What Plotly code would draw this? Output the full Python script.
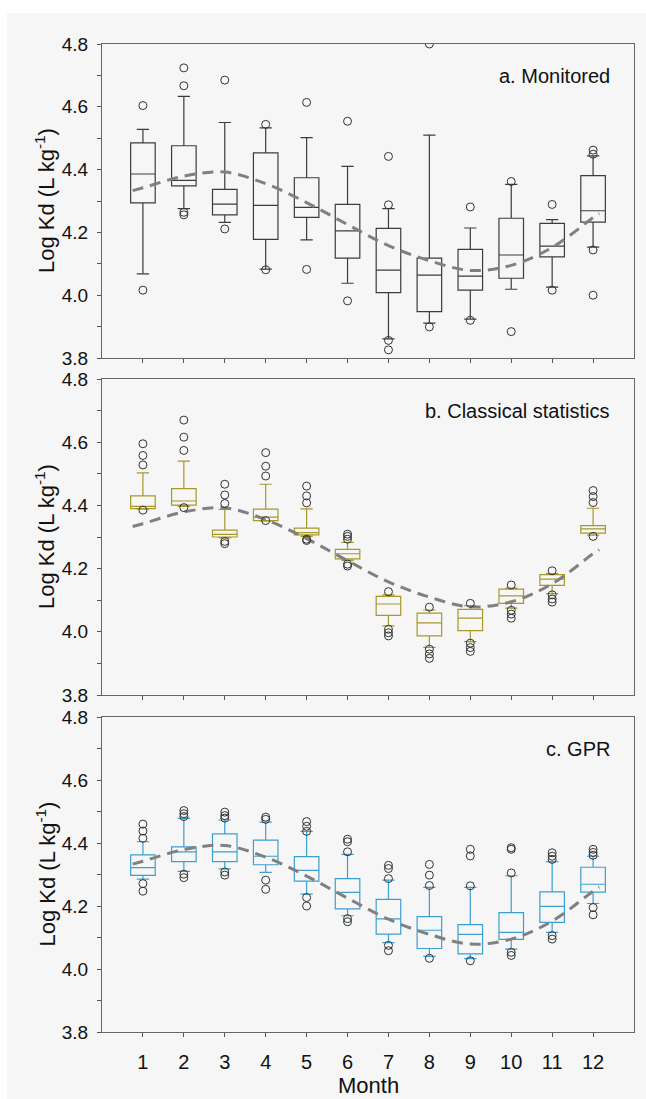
import plotly.graph_objects as go
from plotly.subplots import make_subplots

months = [1, 2, 3, 4, 5, 6, 7, 8, 9, 10, 11, 12]
month_labels = [str(m) for m in months]

# Panel a: Monitored
a_upper = [4.528, 4.633, 4.550, 4.533, 4.502, 4.410, 4.276, 4.510, 4.214, 4.353, 4.241, 4.444]
a_q3 = [4.485, 4.476, 4.337, 4.453, 4.374, 4.289, 4.213, 4.118, 4.146, 4.245, 4.229, 4.381]
a_med = [4.386, 4.366, 4.290, 4.286, 4.280, 4.205, 4.080, 4.064, 4.061, 4.128, 4.156, 4.269]
a_q1 = [4.294, 4.348, 4.256, 4.178, 4.248, 4.118, 4.008, 3.948, 4.016, 4.054, 4.122, 4.233]
a_lower = [4.068, 4.276, 4.232, 4.083, 4.176, 4.038, 3.861, 3.911, 3.924, 4.019, 4.026, 4.153]
a_out_x = [1, 1, 2, 2, 2, 2, 3, 3, 4, 4, 5, 5, 6, 6, 7, 7, 7, 7, 8, 8, 9, 9, 10, 10, 11, 11, 12, 12, 12, 12]
a_out_y = [4.604, 4.016, 4.724, 4.667, 4.264, 4.256, 4.685, 4.211, 4.544, 4.081, 4.614, 4.082,
           4.554, 3.982, 4.442, 4.288, 3.856, 3.826, 4.800, 3.899, 4.281, 3.920, 4.362, 3.884,
           4.289, 4.016, 4.462, 4.449, 4.144, 4.000]

# Panel b: Classical statistics
b_upper = [4.503, 4.540, 4.387, 4.467, 4.389, 4.283, 4.117, 4.069, 4.083, 4.138, 4.184, 4.391]
b_q3 = [4.430, 4.453, 4.322, 4.388, 4.328, 4.261, 4.112, 4.059, 4.071, 4.135, 4.181, 4.336]
b_med = [4.397, 4.414, 4.308, 4.363, 4.314, 4.247, 4.088, 4.028, 4.043, 4.114, 4.167, 4.326]
b_q1 = [4.390, 4.401, 4.300, 4.352, 4.307, 4.231, 4.052, 3.987, 4.004, 4.090, 4.147, 4.312]
b_lower = [4.388, 4.397, 4.297, 4.350, 4.302, 4.226, 4.019, 3.951, 3.969, 4.075, 4.121, 4.306]
b_out_x = [1, 1, 1, 1, 2, 2, 2, 2, 3, 3, 3, 3, 3, 4, 4, 4, 4, 5, 5, 5, 5, 5, 6, 6, 6, 6, 6,
           7, 7, 7, 7, 8, 8, 8, 8, 9, 9, 9, 9, 10, 10, 10, 10, 11, 11, 11, 11, 12, 12, 12, 12]
b_out_y = [4.595, 4.558, 4.528, 4.385, 4.670, 4.616, 4.574, 4.393, 4.467, 4.433, 4.406, 4.286, 4.279,
           4.567, 4.524, 4.493, 4.352, 4.461, 4.430, 4.408, 4.293, 4.289, 4.309, 4.302, 4.293, 4.214, 4.208,
           4.127, 4.008, 3.997, 3.987, 4.078, 3.945, 3.930, 3.916, 4.090, 3.964, 3.950, 3.938,
           4.148, 4.068, 4.056, 4.043, 4.193, 4.117, 4.104, 4.094, 4.447, 4.428, 4.409, 4.302]

# Panel c: GPR
c_upper = [4.404, 4.478, 4.473, 4.466, 4.437, 4.364, 4.282, 4.259, 4.259, 4.296, 4.341, 4.358]
c_q3 = [4.362, 4.388, 4.429, 4.409, 4.357, 4.287, 4.221, 4.166, 4.141, 4.179, 4.245, 4.323]
c_med = [4.322, 4.372, 4.372, 4.358, 4.313, 4.243, 4.159, 4.123, 4.110, 4.116, 4.199, 4.269]
c_q1 = [4.297, 4.341, 4.341, 4.331, 4.279, 4.191, 4.111, 4.065, 4.048, 4.094, 4.148, 4.244]
c_lower = [4.285, 4.310, 4.318, 4.307, 4.238, 4.169, 4.084, 4.040, 4.033, 4.063, 4.116, 4.208]
c_out_x = [1, 1, 1, 1, 1, 2, 2, 2, 2, 2, 3, 3, 3, 3, 3, 4, 4, 4, 4, 5, 5, 5, 5, 5, 6, 6, 6, 6, 6,
           7, 7, 7, 7, 7, 8, 8, 8, 8, 9, 9, 9, 9, 10, 10, 10, 10, 10, 11, 11, 11, 11, 11, 12, 12, 12, 12, 12]
c_out_y = [4.460, 4.438, 4.415, 4.271, 4.247, 4.503, 4.493, 4.484, 4.301, 4.290,
           4.498, 4.487, 4.479, 4.308, 4.298, 4.482, 4.475, 4.282, 4.253,
           4.468, 4.453, 4.437, 4.227, 4.200, 4.412, 4.404, 4.372, 4.160, 4.150,
           4.329, 4.319, 4.287, 4.075, 4.058, 4.332, 4.298, 4.265, 4.034,
           4.380, 4.359, 4.264, 4.026, 4.385, 4.380, 4.305, 4.053, 4.043,
           4.369, 4.358, 4.348, 4.106, 4.095, 4.380, 4.370, 4.361, 4.195, 4.172]

# Dashed seasonal curve (same in all panels)
curve_x = [0.75, 1, 2, 3, 4, 5, 6, 7, 8, 9, 10, 11, 12, 12.15]
curve_y = [4.333, 4.342, 4.379, 4.392, 4.355, 4.295, 4.225, 4.158, 4.110, 4.079, 4.095, 4.152, 4.247, 4.260]

panel_titles = ["a. Monitored", "b. Classical statistics", "c. GPR"]
panel_colors = ["#3c3c3c", "#a8982a", "#3d9fd0"]
FONT = "Liberation Sans, Arial, sans-serif"

fig = make_subplots(rows=3, cols=1, shared_xaxes=True, vertical_spacing=0.02)

panels = [
    (a_q1, a_med, a_q3, a_lower, a_upper, a_out_x, a_out_y),
    (b_q1, b_med, b_q3, b_lower, b_upper, b_out_x, b_out_y),
    (c_q1, c_med, c_q3, c_lower, c_upper, c_out_x, c_out_y),
]

for i, (q1, med, q3, lo, up, ox, oy) in enumerate(panels):
    row = i + 1
    fig.add_trace(go.Scatter(x=curve_x, y=curve_y, mode="lines",
                             line=dict(color="#808080", width=3, dash="11px,7px", shape="spline"),
                             showlegend=False, hoverinfo="skip"), row=row, col=1)
    fig.add_trace(go.Box(x=months, q1=q1, median=med, q3=q3, lowerfence=lo, upperfence=up,
                         boxpoints=False, width=0.6, whiskerwidth=0.5,
                         line=dict(color=panel_colors[i], width=1.2),
                         fillcolor="rgba(0,0,0,0)", showlegend=False), row=row, col=1)
    fig.add_trace(go.Scatter(x=ox, y=oy, mode="markers",
                             marker=dict(symbol="circle-open", size=8, color="#333333",
                                         line=dict(width=1, color="#333333")),
                             showlegend=False), row=row, col=1)

# layout geometry (pixels): plot from x 102..634, panels at y 44-358, 379-695, 717-1032
W, H = 646, 1099
ml, mr, mt, mb = 102, 12, 44, 67
ph = H - mt - mb
pw = W - ml - mr
def ydom(top, bot):
    return [(H - mb - bot) / ph, (H - mb - top) / ph]

doms = [ydom(44, 358), ydom(379, 695), ydom(717, 1032)]

for i in range(3):
    yn = "yaxis" if i == 0 else f"yaxis{i+1}"
    xn = "xaxis" if i == 0 else f"xaxis{i+1}"
    fig.layout[yn].update(domain=doms[i], range=[3.8, 4.8], dtick=0.2, tick0=3.8, tickformat=".1f",
                          ticks="outside", ticklen=4, tickcolor="#555", showgrid=False, zeroline=False,
                          showline=True, linecolor="#666", linewidth=1, mirror=True,
                          minor=dict(ticks="outside", dtick=0.1, ticklen=4, tickcolor="#555"),
                          tickfont=dict(family=FONT, size=19, color="#111"), ticklabelstandoff=5)
    fig.layout[xn].update(range=[0, 13], tickvals=months, ticktext=month_labels,
                          ticks="outside", ticklen=4, tickcolor="#555", showgrid=False, zeroline=False,
                          showline=True, linecolor="#666", linewidth=1, mirror=True,
                          tickfont=dict(family=FONT, size=20, color="#111"))
    ya = "y" if i == 0 else f"y{i+1}"
    fig.add_annotation(text=panel_titles[i], xref="paper", x=(612 - ml) / pw, xanchor="right",
                       yref=f"{ya} domain", y=1 - 32 / 315, yanchor="middle", showarrow=False,
                       font=dict(family=FONT, size=20, color="#111"))
    fig.add_annotation(text="Log Kd (L kg<sup>-1</sup>)", xref="paper", x=(45 - ml) / pw, xanchor="center",
                       yref=f"{ya} domain", y=0.5, yanchor="middle", textangle=-90, showarrow=False,
                       font=dict(family=FONT, size=22, color="#111"))

fig.layout["xaxis3"].update(ticklabelstandoff=8)
fig.add_annotation(text="Month", xref="paper", x=0.5, xanchor="center",
                   yref="paper", y=(H - mb - 1085) / ph, yanchor="middle", showarrow=False,
                   font=dict(family=FONT, size=22, color="#111"))

# light gray backdrop with thin white strip at top/left
fig.add_shape(type="rect", xref="paper", yref="paper", layer="below",
              x0=(7 - ml) / pw, x1=(W - ml) / pw + 0.01, y0=-(mb + 5) / ph, y1=(H - mb - 13) / ph,
              fillcolor="#f6f6f6", line=dict(width=0))

fig.update_layout(width=W, height=H, margin=dict(l=ml, r=mr, t=mt, b=mb, autoexpand=False),
                  paper_bgcolor="white", plot_bgcolor="rgba(0,0,0,0)",
                  font=dict(family=FONT, color="#111"), showlegend=False)

fig.write_html("out.html", config={"displayModeBar": False},
               post_script="document.body.style.margin='0';document.body.style.overflow='hidden';")
